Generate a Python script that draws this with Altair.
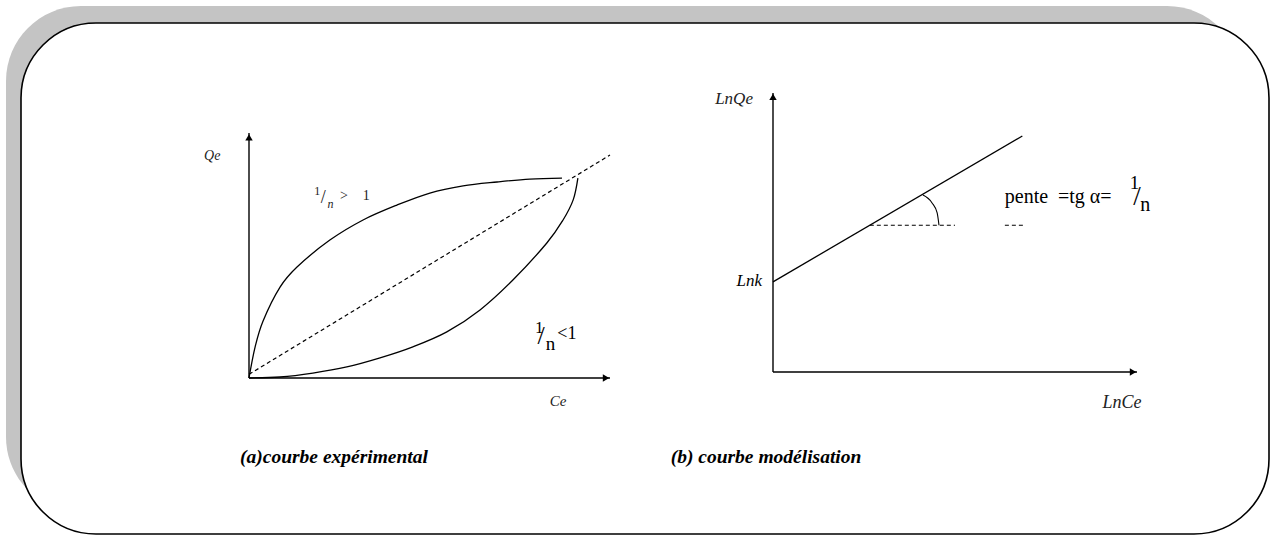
import altair as alt
import pandas as pd

W, H = 1271, 535

# ---- Panel (a): experimental Freundlich isotherms, Qe against Ce ----
ce_convex = [0, 1.7, 3.9, 8.6, 13.3, 22.4, 31.6, 41.0, 50.1, 59.3, 68.7, 77.8, 86.7]
qe_convex = [0, 12.7, 23.3, 37.1, 45.3, 56.3, 64.5, 70.6, 75.5, 78.4, 80.0, 81.2, 81.6]
ce_concave = [0, 8.6, 17.7, 27.1, 36.3, 45.4, 54.8, 64.0, 73.1, 82.5, 87.0, 89.8, 91.1]
qe_concave = [0, 0.4, 2.0, 4.5, 8.2, 12.7, 18.8, 27.8, 40.0, 55.1, 64.5, 72.7, 81.6]
ce_linear = [0, 100]
qe_linear = [1.5, 91]

# ---- Panel (b): linearised form, ln Qe against ln Ce ----
lnce_fit = [0, 68.5]
lnqe_fit = [32.3, 84.6]
lnce_ref = [26.6, 50.0]          # horizontal reference for the angle
lnce_ref2 = [63.7, 68.7]
lnqe_ref = [52.6, 52.6]
lnce_arc = [41.2, 43.7, 45.1, 45.6]
lnqe_arc = [63.4, 60.6, 57.0, 52.6]

axis_len = [0, 100]

captions = ["(a)courbe expérimental", "(b) courbe modélisation"]

SERIF = "Liberation Serif"
INK = "#000000"
LABEL = "#222222"


def scales(panel):
    if panel == "a":
        return (alt.Scale(domain=[0, 100], range=[249, 610], nice=False, zero=False),
                alt.Scale(domain=[0, 100], range=[378, 133], nice=False, zero=False))
    return (alt.Scale(domain=[0, 100], range=[773, 1137], nice=False, zero=False),
            alt.Scale(domain=[0, 100], range=[372, 93], nice=False, zero=False))


def line(panel, xs, ys, dash=None, width=1.3, interp="linear"):
    sx, sy = scales(panel)
    df = pd.DataFrame({"x": xs, "y": ys, "o": list(range(len(xs)))})
    kw = dict(color=INK, strokeWidth=width, interpolate=interp, clip=False)
    if dash:
        kw["strokeDash"] = dash
    return alt.Chart(df).mark_line(**kw).encode(
        x=alt.X("x:Q", scale=sx, axis=None),
        y=alt.Y("y:Q", scale=sy, axis=None),
        order="o:Q",
    )


def arrow(panel, x, y, shape):
    sx, sy = scales(panel)
    df = pd.DataFrame({"x": [x], "y": [y]})
    return alt.Chart(df).mark_point(shape=shape, filled=True, color=INK, size=55, opacity=1).encode(
        x=alt.X("x:Q", scale=sx, axis=None),
        y=alt.Y("y:Q", scale=sy, axis=None),
    )


def label(panel, x, y, text, size=13, style="italic", weight="normal", align="center", color=LABEL):
    sx, sy = scales(panel)
    df = pd.DataFrame({"x": [x], "y": [y], "t": [text]})
    return alt.Chart(df).mark_text(
        font=SERIF, fontSize=size, fontStyle=style, fontWeight=weight,
        align=align, baseline="middle", color=color,
    ).encode(
        x=alt.X("x:Q", scale=sx, axis=None),
        y=alt.Y("y:Q", scale=sy, axis=None),
        text="t:N",
    )


# ---- framed card with a soft grey offset behind it ----
shadow = alt.Chart(pd.DataFrame({"k": [0]})).mark_rect(
    cornerRadius=75, color="#c4c4c4"
).encode(x=alt.value(6), x2=alt.value(1242), y=alt.value(6), y2=alt.value(512))

card = alt.Chart(pd.DataFrame({"k": [0]})).mark_rect(
    cornerRadius=75, fill="white", stroke=INK, strokeWidth=1.6
).encode(x=alt.value(21), x2=alt.value(1269), y=alt.value(23), y2=alt.value(534))

layers = [shadow, card]

# panel (a)
layers += [
    line("a", [0, 0], axis_len, width=1.4),
    line("a", axis_len, [0, 0], width=1.4),
    arrow("a", 0, 98.2, "triangle-up"),
    arrow("a", 98.9, 0, "triangle-right"),
    line("a", ce_convex, qe_convex, interp="cardinal"),
    line("a", ce_concave, qe_concave, interp="cardinal"),
    line("a", ce_linear, qe_linear, dash=[4, 3], width=1.2),
    label("a", -10.2, 90.6, "Qe", size=14),
    label("a", 85.6, -9.4, "Ce", size=15),
    label("a", 18.9, 76.4, "1", size=12, style="normal"),
    label("a", 20.6, 73.5, "/", size=18, style="normal"),
    label("a", 22.6, 71.2, "n", size=12),
    label("a", 26.3, 74.3, ">", size=14, style="normal"),
    label("a", 32.5, 74.3, "1", size=14, style="normal"),
    label("a", 80.4, 20.6, "1", size=17, style="normal", color=INK),
    label("a", 80.9, 17.0, "/", size=26, style="normal", color=INK),
    label("a", 83.5, 14.0, "n", size=19, style="normal", color=INK),
    label("a", 85.4, 18.0, "<1", size=18, style="normal", align="left", color=INK),
]

# panel (b)
layers += [
    line("b", [0, 0], axis_len, width=1.4),
    line("b", axis_len, [0, 0], width=1.4),
    arrow("b", 0, 98.6, "triangle-up"),
    arrow("b", 98.9, 0, "triangle-right"),
    line("b", lnce_fit, lnqe_fit, width=1.3),
    line("b", lnce_ref, lnqe_ref, dash=[4, 3], width=1.1),
    line("b", lnce_ref2, lnqe_ref, dash=[4, 3], width=1.1),
    line("b", lnce_arc, lnqe_arc, width=1.1, interp="monotone"),
    label("b", -10.7, 97.7, "LnQe", size=17),
    label("b", -3.0, 32.6, "Lnk", size=17, align="right", color=INK),
    label("b", 95.9, -11.1, "LnCe", size=18),
    label("b", 63.7, 62.6, "pente", size=20, style="normal", align="left", color=INK),
    label("b", 78.3, 62.6, "=tg α=", size=20, style="normal", align="left", color=INK),
    label("b", 99.3, 67.6, "1", size=19, style="normal", color=INK),
    label("b", 100.0, 62.7, "/", size=27, style="normal", color=INK),
    label("b", 102.3, 59.8, "n", size=20, style="normal", color=INK),
]

# captions under each panel
cap_x = [334, 766]
for t, cx in zip(captions, cap_x):
    layers.append(
        alt.Chart(pd.DataFrame({"t": [t]})).mark_text(
            font=SERIF, fontSize=19.5, fontStyle="italic", fontWeight="bold",
            align="center", baseline="middle", color=INK,
        ).encode(x=alt.value(cx), y=alt.value(457), text="t:N")
    )

chart = alt.layer(*layers).resolve_scale(x="independent", y="independent").properties(
    width=W, height=H, padding=0, autosize=alt.AutoSizeParams(type="none"),
    background="white",
).configure_view(stroke=None)

chart.save("out.html", embed_options={"renderer": "svg", "actions": False})
